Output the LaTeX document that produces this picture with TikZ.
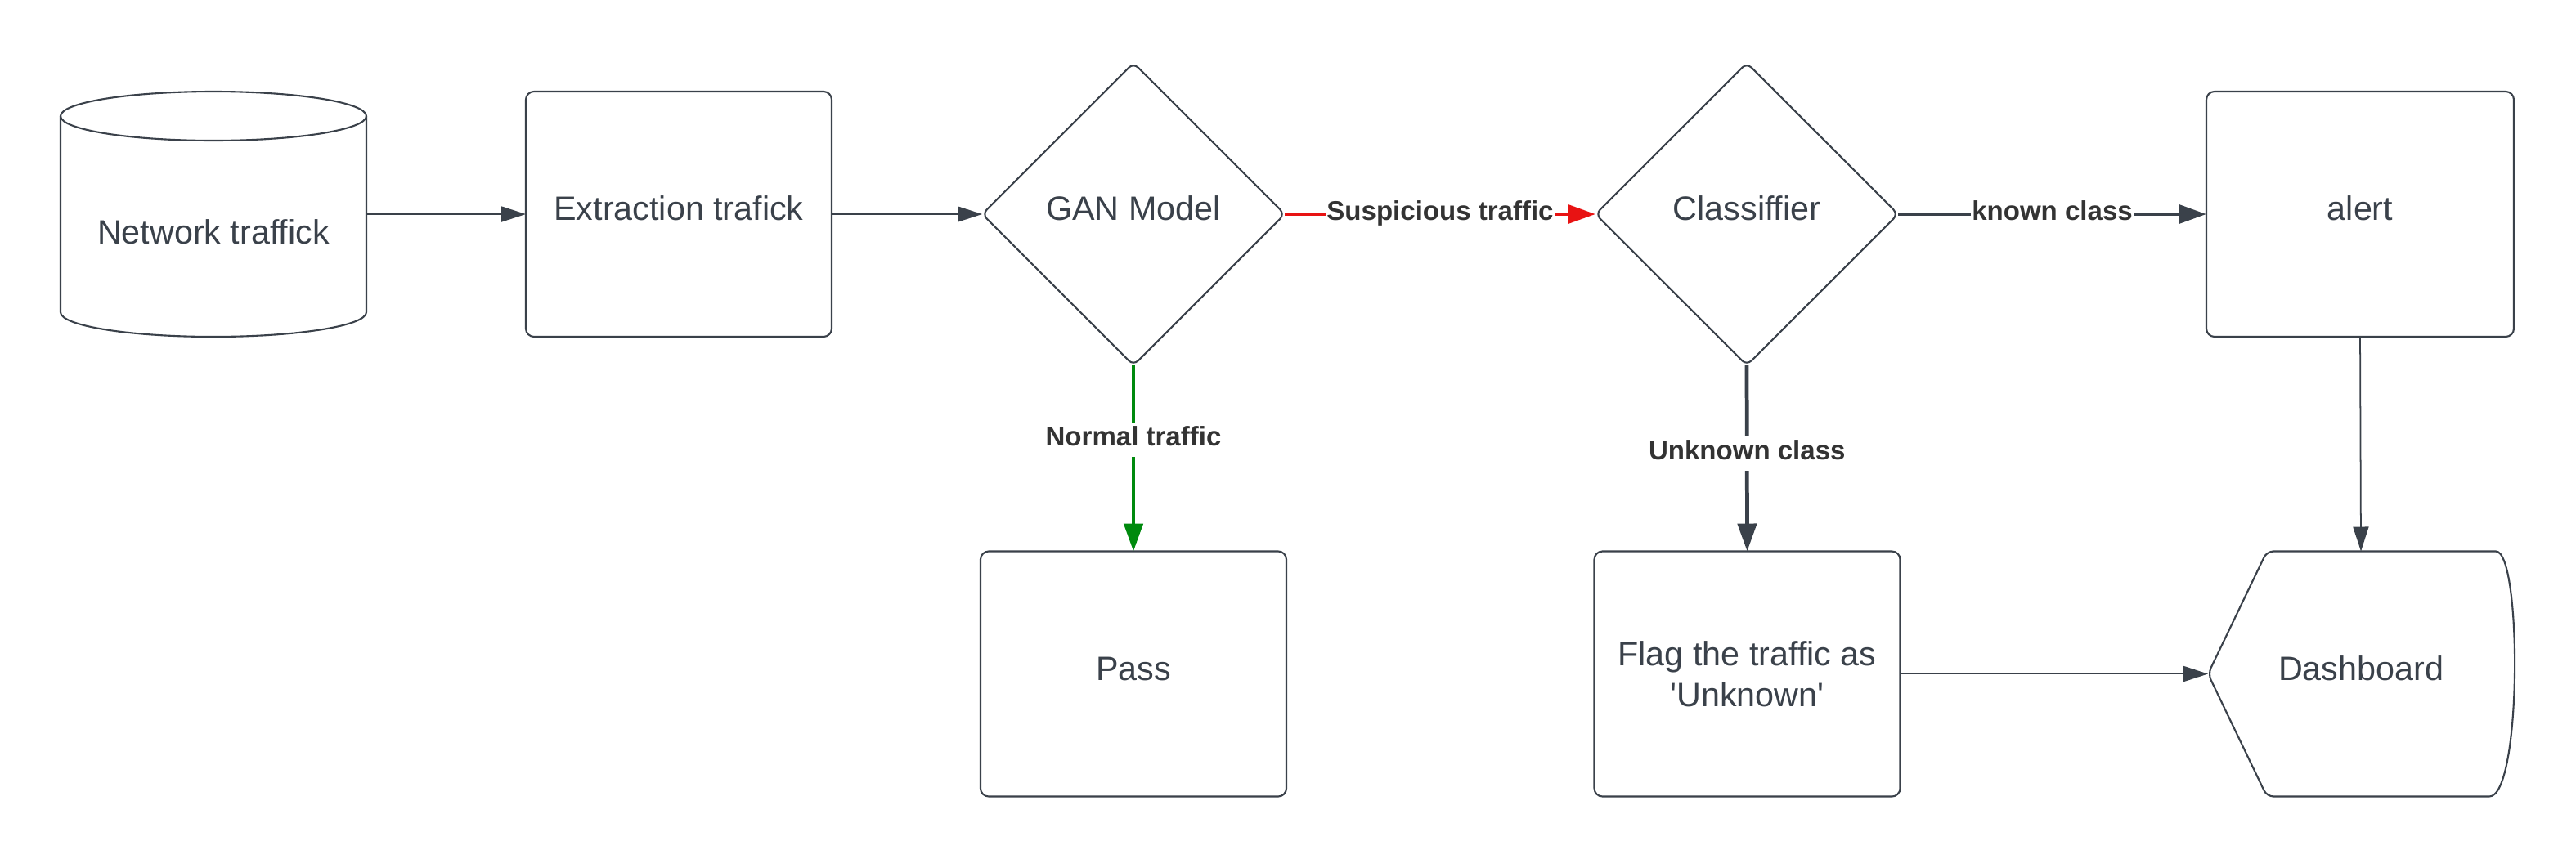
\documentclass[tikz,border=0pt]{standalone}
\usepackage{fontspec}
\setmainfont{Liberation Sans}
\usetikzlibrary{arrows.meta,shapes.geometric,calc}

\definecolor{ink}{HTML}{3A414A}
\definecolor{labelink}{HTML}{333333}
\definecolor{alarmred}{HTML}{E81313}
\definecolor{passgreen}{HTML}{008A0E}

\tikzset{
  shapeline/.style={draw=ink, line width=0.6pt},
  nodefont/.style={text=ink, font=\fontsize{11.75}{14.1}\selectfont},
  oneline/.style={text height=0.72em, text depth=0.28em},
  box/.style={shapeline, nodefont, rectangle, rounded corners=0.1cm,
    minimum width=3.74cm, minimum height=3.0cm, inner sep=0pt, outer sep=0pt},
  frame/.style={nodefont, rectangle, minimum width=3.74cm, minimum height=3.0cm,
    inner sep=0pt, outer sep=0pt},
  decision/.style={shapeline, nodefont, oneline, diamond, aspect=1,
    minimum width=3.7cm, minimum height=3.7cm, inner sep=0pt, outer sep=0pt,
    rounded corners=0.08cm},
  thinflow/.style={draw=ink, line width=0.5pt, -{Triangle[length=3mm,width=1.9mm]}},
  thickflow/.style={draw=ink, line width=1.35pt, -{Triangle[length=3.4mm,width=2.3mm]}},
  flowlabel/.style={fill=white, text=labelink, font=\bfseries\fontsize{9.4}{11}\selectfont,
    inner xsep=0.5pt, inner ysep=0pt, text height=0.8em, text depth=0.4em},
}

\begin{document}
\begin{tikzpicture}
\useasboundingbox (0,0) rectangle (31.5,-10.5);

% top row
\node[frame] (net) at (2.61,-2.62) {};
\node[box, oneline] (ext) at (8.30,-2.62) {Extraction trafick};
\node[decision] (gan) at (13.86,-2.62) {GAN Model};
\node[decision] (cls) at (21.36,-2.62) {Classiffier};
\node[box, oneline, minimum width=3.76cm] (alert) at (28.86,-2.62) {alert};

% bottom row
\node[box, oneline] (pass) at (13.86,-8.245) {Pass};
\node[box, align=center] (flag) at (21.365,-8.245)
  {Flag the traffic as\\\textquotesingle Unknown\textquotesingle};
\node[frame, oneline] (dash) at (28.87,-8.245) {Dashboard};

% cylinder outline for the traffic source
\draw[shapeline] ($(net.north)+(0,-0.3)$) ellipse [x radius=1.87, y radius=0.3];
\draw[shapeline] ($(net.north west)+(0,-0.3)$) -- ($(net.south west)+(0,0.3)$)
  arc[start angle=180, end angle=360, x radius=1.87, y radius=0.3]
  -- ($(net.north east)+(0,-0.3)$);
\node[nodefont, oneline, inner sep=0pt] (nettext) at ($(net.center)+(0,-0.29)$) {Network traffick};

% display shape for the dashboard
\draw[shapeline, rounded corners=0.08cm] (dash.west)
  -- ($(dash.north west)+(0.72,0)$)
  -- ($(dash.north east)+(-0.30,0)$)
  [sharp corners] .. controls ($(dash.north east)+(0.10,0)$) and ($(dash.south east)+(0.10,0)$) ..
  ($(dash.south east)+(-0.30,0)$)
  [rounded corners=0.08cm] -- ($(dash.south west)+(0.72,0)$)
  -- cycle;

% connectors
\draw[thinflow] (net.east) -- (ext.west);
\draw[thinflow] (ext.east) -- (gan.west);
\draw[thickflow, draw=alarmred] (gan.east) -- node[flowlabel] {Suspicious traffic} (cls.west);
\draw[thickflow] (cls.east) -- node[flowlabel] {known class} (alert.west);
\draw[thickflow, draw=passgreen] (gan.south) -- node[flowlabel, pos=0.4] {Normal traffic} (pass.north);
\draw[thickflow] (cls.south) -- node[flowlabel, pos=0.476] {Unknown class} (flag.north);
\draw[thinflow] (alert.south) -- (dash.north);
\draw[thinflow] (flag.east) -- (dash.west);
\end{tikzpicture}
\end{document}
